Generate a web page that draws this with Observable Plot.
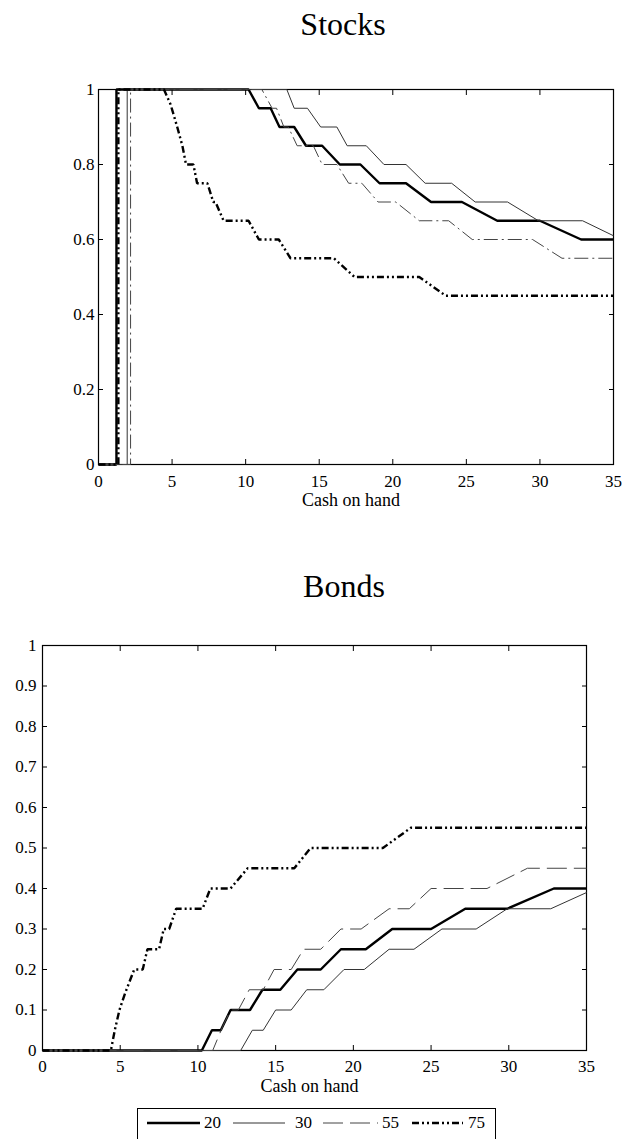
<!DOCTYPE html>
<html>
<head>
<meta charset="utf-8">
<script src="https://cdn.jsdelivr.net/npm/d3@7"></script>
<script src="https://cdn.jsdelivr.net/npm/@observablehq/plot@0.6"></script>
<style>
  body { margin: 0; background: #fff; }
  #page { position: relative; width: 625px; height: 1139px; overflow: hidden; background: #fff; font-family: "Liberation Serif", serif; }
  .title { position: absolute; font-size: 32px; line-height: 1; color: #000; transform: translateX(-50%); white-space: nowrap; font-family: "Liberation Serif", serif; }
  .chart { position: absolute; left: 0; }
</style>
</head>
<body>
<div id="page">
  <div class="title" style="left:343px; top:8px;">Stocks</div>
  <div class="chart" id="stocks" style="top:50px;"></div>
  <div class="title" style="left:344px; top:570px;">Bonds</div>
  <div class="chart" id="bonds" style="top:620px;"></div>
  <div class="chart" id="legend" style="top:1095px;"></div>
</div>
<script>
// ---------- data ----------
const seriesNames = ["20", "30", "55", "75"];
const xTicks = [0, 5, 10, 15, 20, 25, 30, 35];
const stocksYTicks = [0, 0.2, 0.4, 0.6, 0.8, 1];
const bondsYTicks = [0, 0.1, 0.2, 0.3, 0.4, 0.5, 0.6, 0.7, 0.8, 0.9, 1];
const xLabel = "Cash on hand";

// Stocks: [cash on hand, share]
const stocks20 = [[0,0],[1.22,0],[1.22,1],[10.2,1],[10.9,0.95],[11.7,0.95],[12.3,0.9],[13.3,0.9],[14.1,0.85],[15.2,0.85],[16.4,0.8],[17.8,0.8],[19.1,0.75],[20.9,0.75],[22.6,0.7],[24.7,0.7],[27.1,0.65],[30.0,0.65],[32.8,0.6],[35,0.6]];
const stocks30 = [[0,0],[1.95,0],[1.95,1],[12.8,1],[13.3,0.95],[14.2,0.95],[15.1,0.9],[16.2,0.9],[16.9,0.85],[18.2,0.85],[19.4,0.8],[20.9,0.8],[22.2,0.75],[24.0,0.75],[25.6,0.7],[27.8,0.7],[29.9,0.65],[32.9,0.65],[35,0.61]];
const stocks55 = [[0,0],[2.18,0],[2.18,1],[11.1,1],[11.8,0.95],[12.1,0.95],[12.6,0.9],[12.9,0.9],[13.5,0.85],[14.6,0.85],[15.2,0.8],[16.2,0.8],[17.0,0.75],[17.9,0.75],[19.0,0.7],[20.2,0.7],[21.8,0.65],[23.8,0.65],[25.4,0.6],[29.5,0.6],[31.5,0.55],[35,0.55]];
const stocks75 = [[0,0],[1.35,0],[1.35,1],[4.45,1],[4.9,0.96],[5.35,0.9],[5.7,0.85],[5.95,0.8],[6.45,0.8],[6.7,0.75],[7.4,0.75],[7.8,0.7],[7.95,0.7],[8.5,0.65],[10.2,0.65],[10.9,0.6],[12.25,0.6],[13.05,0.55],[16.0,0.55],[17.4,0.5],[21.8,0.5],[23.6,0.45],[35,0.45]];

// Bonds
const bonds20 = [[0,0],[10.25,0],[10.9,0.05],[11.47,0.05],[12.1,0.1],[13.35,0.1],[14.15,0.15],[15.3,0.15],[16.4,0.2],[17.9,0.2],[19.2,0.25],[20.8,0.25],[22.5,0.3],[25.0,0.3],[27.2,0.35],[29.9,0.35],[32.9,0.4],[35,0.4]];
const bonds30 = [[0,0],[12.75,0],[13.5,0.05],[14.2,0.05],[15.0,0.1],[16.0,0.1],[17.0,0.15],[18.1,0.15],[19.4,0.2],[20.7,0.2],[22.3,0.25],[23.9,0.25],[25.7,0.3],[27.9,0.3],[29.9,0.35],[32.7,0.35],[35,0.39]];
const bonds55 = [[0,0],[10.95,0],[11.6,0.06],[12.1,0.1],[12.6,0.1],[13.3,0.15],[14.2,0.15],[14.9,0.2],[16.0,0.2],[16.8,0.25],[17.9,0.25],[19.2,0.3],[20.5,0.3],[22.3,0.35],[23.6,0.35],[25.0,0.4],[28.6,0.4],[31.2,0.45],[35,0.45]];
const bonds75 = [[0,0],[4.4,0],[4.65,0.05],[4.95,0.1],[5.3,0.14],[5.6,0.17],[5.9,0.2],[6.45,0.2],[6.75,0.25],[7.5,0.25],[7.8,0.3],[8.15,0.3],[8.6,0.35],[10.3,0.35],[10.8,0.4],[12.1,0.4],[13.2,0.45],[16.2,0.45],[17.25,0.5],[21.9,0.5],[23.7,0.55],[35,0.55]];

// ---------- styles ----------
const lineStyle = {
  "20": {stroke: "#000", strokeWidth: 2.4, dash: null},
  "30": {stroke: "#333", strokeWidth: 1, dash: null},
  "55": {stroke: "#444", strokeWidth: 1, dash: "20,7"},
  "75": {stroke: "#000", strokeWidth: 2.4, dash: "7,3,2,3,2,3"}
};

function toRows(name, pts) {
  return pts.map(([x, y]) => ({series: name, x, y}));
}

function makeChart({series, yTicks, height, marginTop, marginBottom, marginLeft, marginRight, dash55, yPad, xPad}) {
  const lines = seriesNames.map((name, i) => {
    const s = lineStyle[name];
    const dash = name === "55" ? dash55 : s.dash;
    return Plot.line(toRows(name, series[i]), {
      x: "x", y: "y",
      stroke: s.stroke, strokeWidth: s.strokeWidth,
      strokeDasharray: dash,
      strokeLinejoin: "miter", strokeLinecap: "butt"
    });
  });
  return Plot.plot({
    width: 625, height, marginTop, marginBottom, marginLeft, marginRight,
    x: {domain: [0, 35]},
    y: {domain: [0, 1]},
    style: {fontFamily: "Liberation Serif, serif", fontSize: "17px", color: "#000", background: "transparent", overflow: "visible"},
    marks: [
      Plot.frame({stroke: "#000", strokeWidth: 1.2}),
      ...lines,
      Plot.axisX(xTicks, {anchor: "bottom", tickSize: 0, tickPadding: xPad, label: null, fontSize: 17, tickFormat: d => String(d)}),
      Plot.axisX(xTicks, {anchor: "bottom", tickSize: -5, tickFormat: () => "", label: null}),
      Plot.axisX(xTicks, {anchor: "top", tickSize: -5, tickFormat: () => "", label: null}),
      Plot.axisY(yTicks, {anchor: "left", tickSize: 0, tickPadding: yPad, label: null, fontSize: 17, tickFormat: d => String(d)}),
      Plot.axisY(yTicks, {anchor: "left", tickSize: -5, tickFormat: () => "", label: null}),
      Plot.axisY(yTicks, {anchor: "right", tickSize: -5, tickFormat: () => "", label: null}),
      Plot.text([xLabel], {frameAnchor: "bottom", dy: 41, dx: -5, fontSize: 18, text: d => d})
    ]
  });
}

document.getElementById("stocks").append(makeChart({
  series: [stocks20, stocks30, stocks55, stocks75],
  yTicks: stocksYTicks,
  height: 470, marginTop: 39, marginBottom: 56, marginLeft: 98, marginRight: 12,
  dash55: "14,4,2,4", yPad: 4, xPad: 10
}));

document.getElementById("bonds").append(makeChart({
  series: [bonds20, bonds30, bonds55, bonds75],
  yTicks: bondsYTicks,
  height: 490, marginTop: 25, marginBottom: 60, marginLeft: 42, marginRight: 39,
  dash55: "20,7", yPad: 6, xPad: 9
}));

// ---------- legend ----------
(function () {
  const svg = d3.create("svg").attr("width", 625).attr("height", 44)
    .style("font-family", "Liberation Serif, serif").style("font-size", "17px");
  svg.append("rect").attr("x", 137.5).attr("y", 13.5).attr("width", 358).attr("height", 60)
    .attr("fill", "none").attr("stroke", "#000").attr("stroke-width", 1);
  const slots = [[147, 200, 204], [233, 285, 295], [323, 378, 382], [412, 463, 468]];
  seriesNames.forEach((name, i) => {
    const s = lineStyle[name];
    const [x1, x2, tx] = slots[i];
    svg.append("line").attr("x1", x1).attr("x2", x2).attr("y1", 28).attr("y2", 28)
      .attr("stroke", s.stroke).attr("stroke-width", s.strokeWidth)
      .attr("stroke-dasharray", s.dash);
    svg.append("text").attr("x", tx).attr("y", 28).attr("dy", "0.32em").text(name);
  });
  document.getElementById("legend").append(svg.node());
})();
</script>
</body>
</html>
